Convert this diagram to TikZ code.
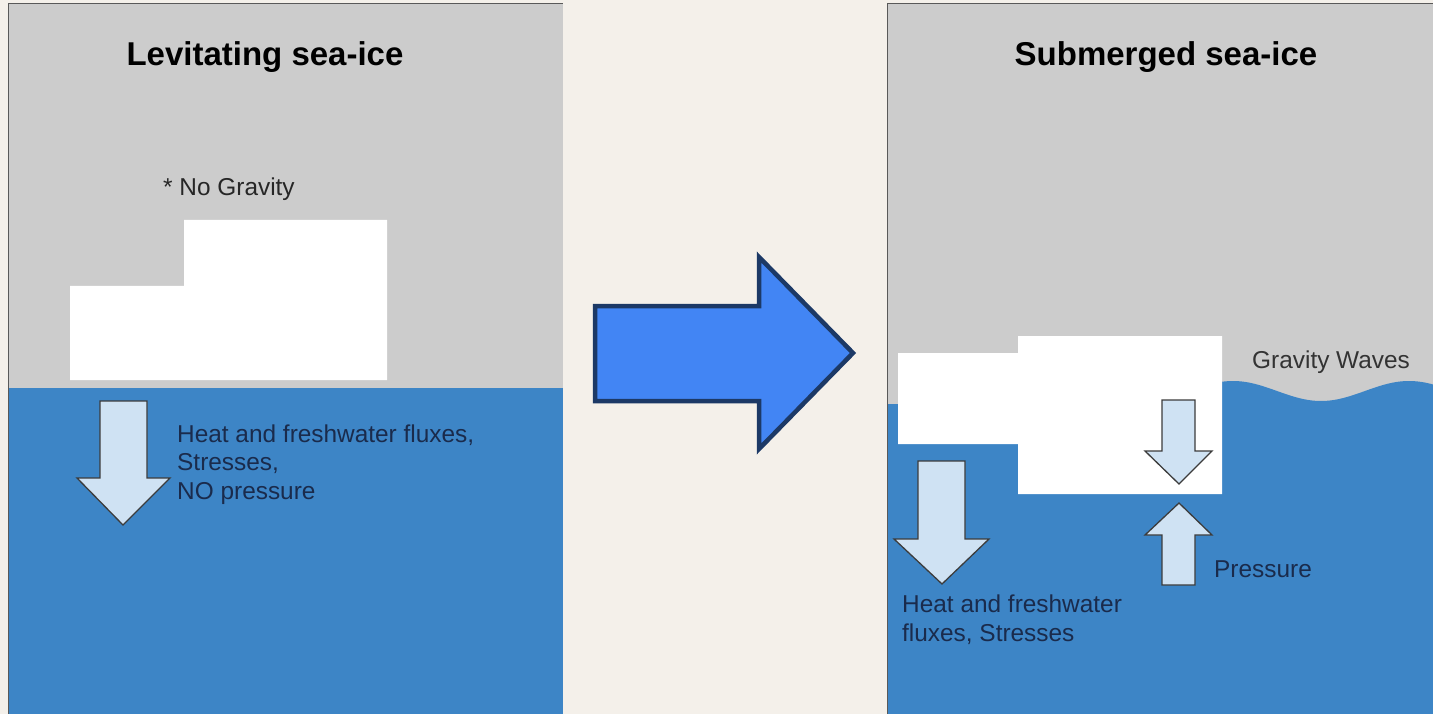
\documentclass[tikz,border=0pt]{standalone}
\usepackage{fontspec}
\setmainfont{Liberation Sans}
\definecolor{paper}{HTML}{F4F0EA}
\definecolor{airgray}{HTML}{CCCCCC}
\definecolor{seablue}{HTML}{3D85C6}
\definecolor{fluxblue}{HTML}{CFE2F3}
\definecolor{fluxline}{HTML}{3C3C3C}
\definecolor{bigblue}{HTML}{4285F4}
\definecolor{bigline}{HTML}{1C3966}
\definecolor{seaink}{HTML}{1A2B4C}

\begin{document}
\begin{tikzpicture}[x=1pt,y=-1pt,
        air/.style={fill=airgray},
        sea/.style={fill=seablue},
        ice/.style={fill=white},
        frame/.style={draw=black!65, line width=1pt},
        flux/.style={fill=fluxblue, draw=fluxline, line width=1.3pt, line join=miter},
        big/.style={fill=bigblue, draw=bigline, line width=4.5pt, line join=miter},
        ttl/.style={font=\bfseries\fontsize{33}{36}\selectfont, anchor=base, inner sep=0pt},
        lbl/.style={font=\fontsize{24.4}{28.5}\selectfont, anchor=base west, inner sep=0pt},
    ]
    \fill[paper] (0,0) rectangle (1433,714);
    \useasboundingbox (0,0) rectangle (1433,714);

    % left panel
    \fill[air] (8,4) rectangle (563,714);
    \fill[sea] (8,388) rectangle (563,714);
    \draw[frame] (8,714) |- (563,4);
    \fill[ice] (70,286) -- (184,286) -- (184,220) -- (387,220) -- (387,380) -- (70,380) -- cycle;
    \draw[flux] (100,401) -- (147,401) -- (147,478) -- (170,478) -- (123,525) -- (77,478) -- (100,478) -- cycle;
    \node[ttl] (levtitle) at (265,66) {Levitating sea-ice};
    \node[lbl, text=black!85] (nograv) at (163,196) {* No Gravity};
    \node[lbl, text=seaink] (lflux) at (177,442) {Heat and freshwater fluxes,};
    \node[lbl, text=seaink] (lstress) at (177,470.5) {Stresses,};
    \node[lbl, text=seaink] (lnopress) at (177,499) {NO pressure};

    % big arrow
    \draw[big] (595,306) -- (759,306) -- (759,257) -- (853,353) -- (759,449) -- (759,401) -- (595,401) -- cycle;

    % right panel
    \fill[air] (887,4) rectangle (1433,714);
    \fill[sea] (887,404) -- (1222,404)
        -- plot[domain=1222:1433, samples=80] (\x,{391-10*cos((\x-1233)/176*360)})
        -- (1433,714) -- (887,714) -- cycle;
    \draw[frame] (887,714) |- (1433,4);
    \fill[ice] (898,353) -- (1018,353) -- (1018,336) -- (1222,336) -- (1222,494) -- (1018,494) -- (1018,444) -- (898,444) -- cycle;
    \draw[flux] (918,461) -- (965,461) -- (965,539) -- (989,539) -- (942,584) -- (894,539) -- (918,539) -- cycle;
    \draw[flux] (1162,400) -- (1195,400) -- (1195,451) -- (1212,451) -- (1179,484) -- (1145,451) -- (1162,451) -- cycle;
    \draw[flux] (1162,585) -- (1195,585) -- (1195,535) -- (1212,535) -- (1179,503) -- (1145,535) -- (1162,535) -- cycle;
    \node[ttl] (subtitle) at (1166,66) {Submerged sea-ice};
    \node[lbl, text=black!80] (waves) at (1252,368) {Gravity Waves};
    \node[lbl, text=seaink] (press) at (1214,577) {Pressure};
    \node[lbl, text=seaink] (rflux) at (902,612) {Heat and freshwater};
    \node[lbl, text=seaink] (rstress) at (902,641) {fluxes, Stresses};
\end{tikzpicture}
\end{document}
